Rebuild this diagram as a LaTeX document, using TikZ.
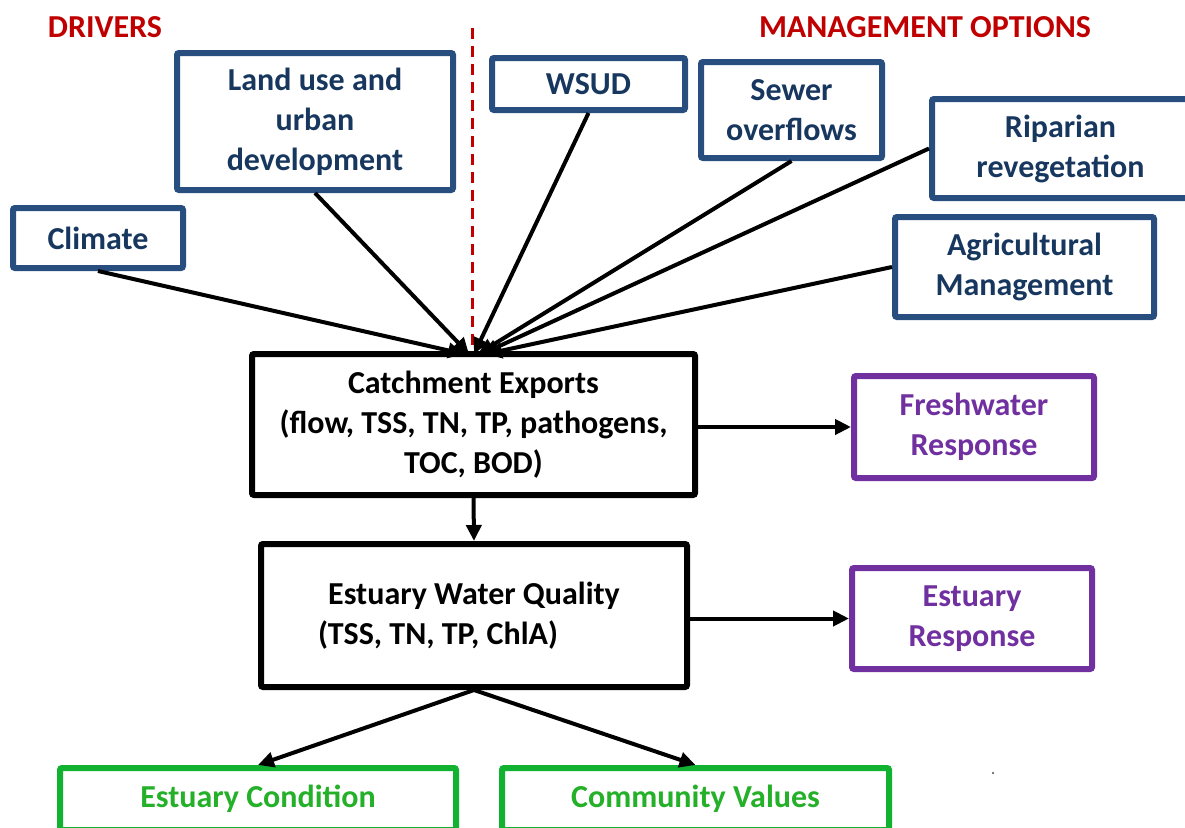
\documentclass[tikz,border=0pt]{standalone}
\usepackage{fontspec}
\setmainfont{Carlito}
\usetikzlibrary{arrows.meta}
\definecolor{boxblue}{RGB}{40,78,128}
\definecolor{textblue}{RGB}{23,55,94}
\definecolor{mypurple}{RGB}{112,48,160}
\definecolor{boxgreen}{RGB}{16,178,48}
\definecolor{textgreen}{RGB}{36,176,40}
\definecolor{myred}{RGB}{192,0,0}
\begin{document}
\begin{tikzpicture}[x=1pt,y=-1pt,
  box/.style={draw, line width=6pt, rounded corners=2pt, align=center, inner sep=0pt,
    font=\bfseries\fontsize{32}{40}\selectfont},
  drv/.style={box, draw=boxblue, text=textblue},
  blk/.style={box, draw=black, text=black},
  resp/.style={box, draw=mypurple, text=mypurple},
  outc/.style={box, draw=boxgreen, text=textgreen},
  title/.style={text=myred, font=\bfseries\fontsize{32}{40}\selectfont, inner sep=0pt},
  conn/.style={draw=black, line width=4pt, -{Triangle[length=16pt,width=15pt]}},
  divider/.style={draw=myred, line width=3pt, dash pattern=on 11pt off 7pt}
]
\useasboundingbox (0,0) rectangle (1185,827);
\fill[white] (0,0) rectangle (1185,827);

% titles
\node[title] (drivers) at (105,27) {DRIVERS};
\node[title] (mgmt) at (925,27) {MANAGEMENT OPTIONS};
\coordinate (divtop) at (472,28);
\coordinate (divbot) at (472,345);
\draw[divider] (divtop) -- (divbot);

% drivers
\node[drv, minimum width=276pt, minimum height=137pt] (landuse) at (315,121.5) {Land use and\\urban\\development};
\node[drv, minimum width=170pt, minimum height=60pt] (climate) at (98,238) {Climate};

% management options
\node[drv, minimum width=193pt, minimum height=52pt] (wsud) at (588.5,84) {WSUD};
\node[drv, minimum width=181pt, minimum height=96pt] (sewer) at (791.5,110) {Sewer\\overflows};
\node[drv, minimum width=257pt, minimum height=99pt] (riparian) at (1060.5,148.5) {Riparian\\revegetation};
\node[drv, minimum width=259pt, minimum height=100pt] (agri) at (1024.5,267) {Agricultural\\Management};

% central chain
\node[blk, minimum width=443pt, minimum height=141pt] (catch) at (473.5,424.5) {Catchment Exports\\(flow, TSS, TN, TP, pathogens,\\TOC, BOD)};
\node[blk, minimum width=426pt, minimum height=143pt] (ewq) at (474,615.5) {Estuary Water Quality\\\makebox[312pt][l]{(TSS, TN, TP, ChlA)}};

% responses
\node[resp, minimum width=240pt, minimum height=102pt] (fresh) at (974,427) {Freshwater\\Response};
\node[resp, minimum width=240pt, minimum height=101pt] (eresp) at (972,618.5) {Estuary\\Response};

% outcomes
\node[outc, minimum width=396pt, minimum height=62pt] (econd) at (258,799) {Estuary Condition};
\node[outc, minimum width=387pt, minimum height=62pt] (cvals) at (695.5,799) {Community Values};

% converging inputs
\coordinate (inA) at (464,354);
\coordinate (inB) at (469,354);
\coordinate (inC) at (474,354);
\coordinate (inD) at (478,354);
\coordinate (inE) at (482,354);
\coordinate (inF) at (486,354);
\draw[conn] (climate.south) -- (inA);
\draw[conn] (landuse.south) -- (inB);
\draw[conn] (wsud.south) -- (inC);
\draw[conn] (sewer.south) -- (inD);
\draw[conn] (riparian.west) -- (inE);
\draw[conn] (agri.west) -- (inF);

% chain connectors
\draw[conn] (catch.east |- fresh.west) -- (fresh.west);
\draw[conn] (catch.south) -- (ewq.north);
\draw[conn] (ewq.east |- eresp.west) -- (eresp.west);
\draw[conn] (ewq.south) -- (econd.north);
\draw[conn] (ewq.south) -- (cvals.north);

% small stray dot
\fill[black!70] (993,773) circle (1.2pt);
\end{tikzpicture}
\end{document}
